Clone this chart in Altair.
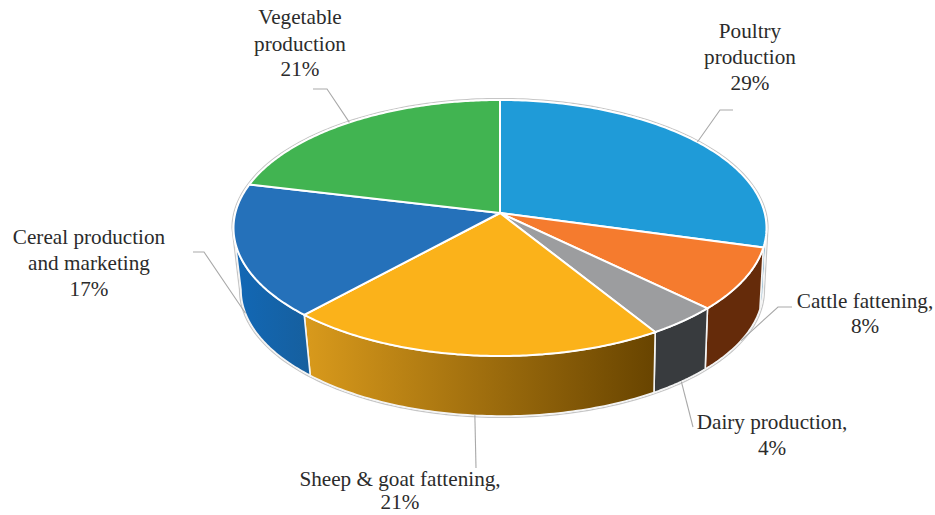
import numpy as np
import altair as alt

# Share of farm households by activity, clockwise from twelve o'clock
names = ["Poultry production", "Cattle fattening", "Dairy production",
         "Sheep & goat fattening", "Cereal production and marketing", "Vegetable production"]
shares = [29, 8, 4, 21, 17, 21]
top_colors = ["#1f9bd8", "#f57b2e", "#9c9d9f", "#fbb21a", "#2571ba", "#41b451"]
wall_stops = [["#2f7fae", "#2f7fae"], ["#652b0a", "#652b0a"], ["#383b3e", "#383b3e"],
              ["#d99a1c", "#684400"], ["#1268b6", "#165f9e"], None]

label_lines = [["Poultry", "production", "29%"], ["Cattle fattening,", "8%"],
               ["Dairy production,", "4%"], ["Sheep & goat fattening,", "21%"],
               ["Cereal production", "and marketing", "17%"], ["Vegetable", "production", "21%"]]

# Layout of the tilted disc, in pixels
CX, TOP_CY, TOP_A, TOP_B = 500.0, 228.0, 266.5, 128.0
BOT_CX, BOT_CY, BOT_A, BOT_B = 502.0, 290.0, 261.0, 126.0
APEX_Y = 213.0
TILT = -0.10  # perspective shift of the slices' rim towards the viewer

label_anchor = [(750, [32, 58, 84]), (865, [302, 327]), (772, [423, 449]),
                (400, [480, 503]), (89, [238, 264, 290]), (300, [18, 45, 70])]
leader_elbow = [[(720, 110), (733, 110)], [(778, 307), (792, 307)], [(693, 427)],
                [(476, 468)], [(204, 252), (193, 252)], [(327, 89), (313, 89)]]
leader_on_base = [False, True, True, True, True, False]


def rim(theta, cx=CX, cy=TOP_CY, a=TOP_A, b=TOP_B):
    """Perspective image of a circle point at clockwise angle theta (radians)."""
    x, y = np.sin(theta), -np.cos(theta)
    d = 1 + TILT * y
    return cx + a * x * np.sqrt(1 - TILT ** 2) / d, cy + b * (y + TILT) / d


def ring(pts):
    xs, ys = pts
    return [[float(px), float(py)] for px, py in zip(xs, ys)]


def feature(kind, coords, name):
    return {"type": "Feature", "properties": {"name": name},
            "geometry": {"type": kind, "coordinates": coords}}


edges = np.cumsum([0] + shares) / sum(shares) * 2 * np.pi
apex = [CX, APEX_Y]
left_turn = np.arccos(TILT) * -1 + 2 * np.pi   # silhouette tangent, left side
right_turn = np.arccos(TILT)                   # silhouette tangent, right side
base = (BOT_CX, BOT_CY, BOT_A, BOT_B)

layers = []

# Grey halo following the outline of the whole solid
low = np.linspace(right_turn, left_turn, 160)
high = np.linspace(left_turn, right_turn + 2 * np.pi, 160)
halo = ring(rim(low, BOT_CX, BOT_CY, BOT_A + 1.5, BOT_B + 1.5)) + ring(rim(high, CX, TOP_CY, TOP_A + 1.5, TOP_B + 1.5))
layers.append(alt.Chart(alt.Data(values=[feature("Polygon", [halo + halo[:1]], "halo")]))
              .mark_geoshape(fill="#ffffff", stroke="#c6c6c6", strokeWidth=1.2))

# Side walls of the front-facing slices
for i, stops in enumerate(wall_stops):
    if stops is None:
        continue
    start = max(edges[i], right_turn)
    stop = min(edges[i + 1], left_turn)
    if stop <= start:
        continue
    t = np.linspace(start, stop, 80)
    poly = ring(rim(t)) + ring(rim(t[::-1], *base))
    fill = alt.Gradient(gradient="linear", x1=0, x2=1, y1=0, y2=0,
                        stops=[alt.GradientStop(color=stops[0], offset=0),
                               alt.GradientStop(color=stops[1], offset=1)])
    layers.append(alt.Chart(alt.Data(values=[feature("Polygon", [poly + poly[:1]], names[i])]))
                  .mark_geoshape(fill=fill, stroke="#f4f4f4", strokeWidth=1.6))

# Top faces of the slices
faces = []
for i, name in enumerate(names):
    t = np.linspace(edges[i], edges[i + 1], 120)
    poly = [apex] + ring(rim(t)) + [apex]
    faces.append(feature("Polygon", [poly], name))
layers.append(alt.Chart(alt.Data(values=faces)).mark_geoshape(stroke="#ffffff", strokeWidth=2).encode(
    color=alt.Color("properties.name:N", scale=alt.Scale(domain=names, range=top_colors), legend=None)))

# Leader lines start at the middle of each slice's rim
leaders = []
for i, name in enumerate(names):
    mid = (edges[i] + edges[i + 1]) / 2
    start = rim(mid, *base) if leader_on_base[i] else rim(mid)
    path = [[float(start[0]), float(start[1])]] + [list(map(float, p)) for p in leader_elbow[i]]
    leaders.append(feature("LineString", path, name))
layers.append(alt.Chart(alt.Data(values=leaders))
              .mark_geoshape(filled=False, stroke="#a9a9a9", strokeWidth=1.1))

# Slice labels, one row per printed line
rows = []
for lines, (lx, lys) in zip(label_lines, label_anchor):
    for text, ly in zip(lines, lys):
        rows.append({"label": text, "lon": lx, "lat": ly})
layers.append(alt.Chart(alt.Data(values=rows))
              .mark_text(font="Liberation Serif", fontSize=21.2, color="#2b2b2b", align="center", baseline="middle")
              .encode(longitude="lon:Q", latitude="lat:Q", text="label:N"))

chart = (alt.layer(*layers)
         .project(type="identity", scale=1, translate=[0, 0])
         .properties(width=935, height=515, padding=0, autosize=alt.AutoSizeParams(type="none"))
         .configure_view(stroke=None)
         .configure(background="#ffffff"))

chart.save("out.html", embed_options={"renderer": "svg", "actions": False})
